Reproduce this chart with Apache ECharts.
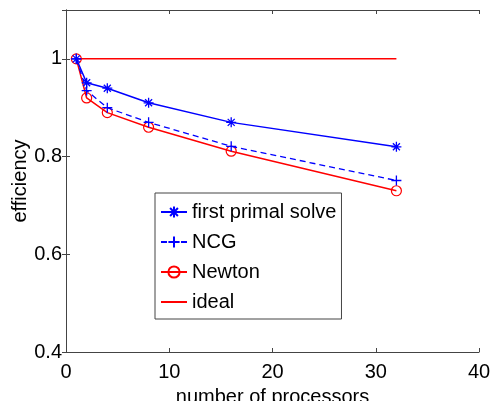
<!DOCTYPE html>
<html>
<head>
<meta charset="utf-8">
<script src="https://cdn.jsdelivr.net/npm/echarts@6/dist/echarts.min.js"></script>
<style>
  html, body { margin: 0; padding: 0; background: #fff; }
  #chart { width: 490px; height: 401px; }
</style>
</head>
<body>
<div id="chart"></div>
<script>
// processors on the x axis
var processors = [1, 2, 4, 8, 16, 32]
var firstPrimal = [1, 0.951, 0.94, 0.91, 0.87, 0.82]
var ncg = [1, 0.935, 0.90, 0.87, 0.821, 0.751]
var newton = [1, 0.92, 0.89, 0.86, 0.811, 0.73]
var ideal = [1, 1, 1, 1, 1, 1]
var legendNames = ['first primal solve', 'NCG', 'Newton', 'ideal']

var starPath = 'path://M0,-5L0,5M-5,0L5,0M-3.5,-3.5L3.5,3.5M-3.5,3.5L3.5,-3.5'
var plusPath = 'path://M0,-5L0,5M-5,0L5,0'
var font = 'Liberation Sans'
var axisColor = '#444'

function pairs (ys) {
  return processors.map(function (x, i) { return [x, ys[i]] })
}

function mirrorAxis (pos, min, max, interval) {
  return {
    type: 'value',
    position: pos,
    min: min,
    max: max,
    interval: interval,
    axisLine: { show: true, lineStyle: { color: axisColor, width: 1 } },
    axisTick: { show: true, inside: true, length: 4, lineStyle: { color: axisColor } },
    axisLabel: { show: false },
    splitLine: { show: false }
  }
}

var chart = echarts.init(document.getElementById('chart'))
chart.setOption({
  animation: false,
  backgroundColor: '#fff',
  textStyle: { fontFamily: font },
  grid: { left: 66, right: 11, top: 10, bottom: 49, containLabel: false, outerBoundsMode: 'none' },
  legend: {
    data: legendNames,
    orient: 'vertical',
    left: 155,
    top: 193,
    itemWidth: 26,
    itemHeight: 14,
    itemGap: 10,
    padding: [9, 5, 7, 5],
    borderColor: axisColor,
    borderWidth: 1,
    backgroundColor: '#fff',
    textStyle: { fontFamily: font, fontSize: 20, color: '#000' }
  },
  xAxis: [{
    type: 'value',
    min: 0,
    max: 40,
    interval: 10,
    name: 'number of processors',
    nameLocation: 'middle',
    nameGap: 35,
    nameMoveOverlap: false,
    nameTextStyle: { fontFamily: font, fontSize: 20, color: '#000' },
    axisLine: { show: true, onZero: false, lineStyle: { color: axisColor, width: 1 } },
    axisTick: { show: true, inside: true, length: 4, lineStyle: { color: axisColor } },
    axisLabel: { fontFamily: font, fontSize: 20, color: '#000', margin: 10 },
    splitLine: { show: false }
  }, mirrorAxis('top', 0, 40, 10)],
  yAxis: [{
    type: 'value',
    min: 0.4,
    max: 1.1,
    interval: 0.2,
    name: 'efficiency',
    nameLocation: 'middle',
    nameGap: 36,
    nameMoveOverlap: false,
    nameTextStyle: { fontFamily: font, fontSize: 20, color: '#000' },
    axisLine: { show: true, onZero: false, lineStyle: { color: axisColor, width: 1 } },
    axisTick: { show: true, inside: true, length: 4, lineStyle: { color: axisColor } },
    axisLabel: {
      fontFamily: font, fontSize: 20, color: '#000', margin: 4,
      formatter: function (v) { return v > 1.05 ? '' : String(Math.round(v * 10) / 10) }
    },
    splitLine: { show: false }
  }, mirrorAxis('right', 0.4, 1.1, 0.2)],
  series: [
    {
      name: 'ideal',
      type: 'line',
      data: pairs(ideal),
      showSymbol: false,
      symbol: 'none',
      lineStyle: { color: '#ff0000', width: 1.5 },
      // transparent so the legend shows only the line
      itemStyle: { color: 'rgba(0,0,0,0)', borderWidth: 0 },
      z: 1
    },
    {
      name: 'Newton',
      type: 'line',
      data: pairs(newton),
      symbol: 'circle',
      symbolSize: 10,
      lineStyle: { color: '#ff0000', width: 1.5 },
      itemStyle: { color: 'rgba(0,0,0,0)', borderColor: '#ff0000', borderWidth: 1.2 },
      z: 2
    },
    {
      name: 'NCG',
      type: 'line',
      data: pairs(ncg),
      symbol: plusPath,
      symbolSize: 10,
      lineStyle: { color: '#0000ff', width: 1.3, type: [6, 4] },
      itemStyle: { color: 'rgba(0,0,0,0)', borderColor: '#0000ff', borderWidth: 1.3 },
      z: 3
    },
    {
      name: 'first primal solve',
      type: 'line',
      data: pairs(firstPrimal),
      symbol: starPath,
      symbolSize: 10,
      lineStyle: { color: '#0000ff', width: 1.5 },
      itemStyle: { color: 'rgba(0,0,0,0)', borderColor: '#0000ff', borderWidth: 1.3 },
      z: 4
    }
  ]
})
</script>
</body>
</html>
